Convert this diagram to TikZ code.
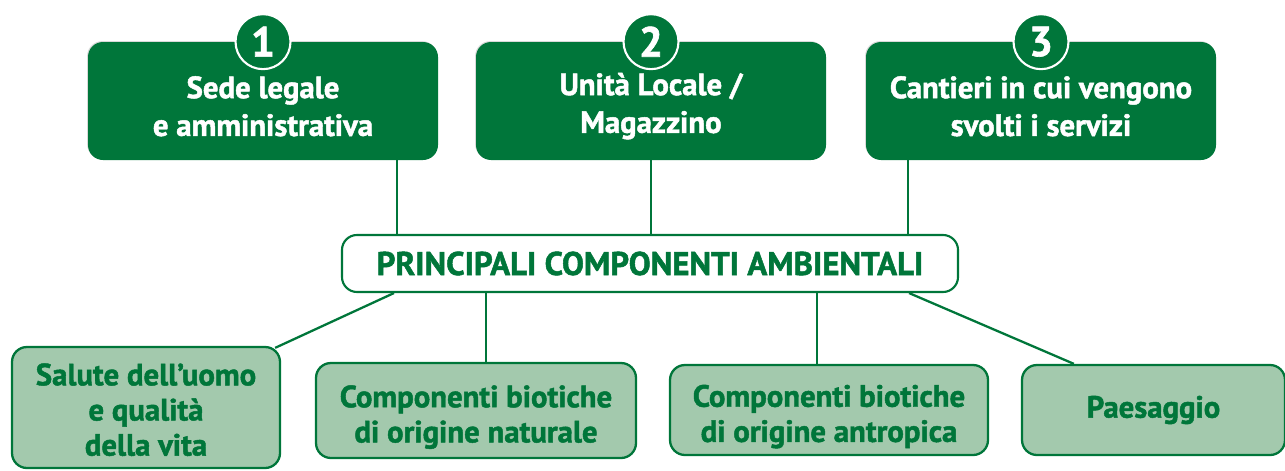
\documentclass[tikz,border=0pt]{standalone}
\usepackage{fontspec}
\setmainfont[BoldFeatures={FakeBold=1.5}]{PT Sans}
\usepackage{tikz}
\usetikzlibrary{shapes,positioning,calc}
\usetikzlibrary{shadows,backgrounds}
\definecolor{verdescuro}{RGB}{0,118,58}
\definecolor{verdechiaro}{RGB}{163,201,173}
\tikzstyle{sede} = [rectangle, rounded corners=0.3cm, fill=verdescuro, text=white, font=\bfseries\fontsize{17.5}{21.5}\selectfont, align=center, minimum width=7cm, minimum height=2.36cm, drop shadow={shadow xshift=-0.5pt, shadow yshift=0.5pt, opacity=0.3}]
\tikzstyle{numero} = [circle, fill=verdescuro, draw=white, line width=1.2pt, text=white, font=\bfseries\fontsize{24}{26}\selectfont, minimum size=1.1cm, inner sep=0pt]
\tikzstyle{titolo} = [rectangle, rounded corners=0.3cm, fill=white, draw=verdescuro, line width=1.2pt, text=verdescuro, font=\bfseries\fontsize{18.7}{21}\selectfont, minimum width=12.32cm, minimum height=1.14cm, drop shadow={shadow xshift=-0.5pt, shadow yshift=0.5pt, opacity=0.3}]
\tikzstyle{componente} = [rectangle, rounded corners=0.3cm, fill=verdechiaro, draw=verdescuro, line width=1.3pt, text=verdescuro, font=\bfseries\fontsize{17.5}{20}\selectfont, align=center, minimum height=1.8cm, drop shadow={shadow xshift=-0.5pt, shadow yshift=0.5pt, opacity=0.3}]
\tikzstyle{linea} = [verdescuro, line width=1.3pt]

\begin{document}
\begin{tikzpicture}
	\useasboundingbox (0,0) rectangle (25.7,9.4);
	% sedi
	\node[sede] (s1) at (5.26,7.38) {\\[-3pt]Sede legale\\e amministrativa};
	\node[sede] (s2) at (13.02,7.38) {\\[-3pt]Unità Locale /\\Magazzino};
	\node[sede] (s3) at (20.82,7.38) {\\[-3pt]Cantieri in cui vengono\\svolti i servizi};
	\node[numero] (n1) at (s1.north) {1};
	\node[numero] (n2) at (s2.north) {2};
	\node[numero] (n3) at (s3.north) {3};
	% titolo
	\node[titolo] (pca) at (13,4.13) {PRINCIPALI COMPONENTI AMBIENTALI};
	% componenti
	\node[componente, minimum width=5.36cm, minimum height=2.42cm] (salute) at (2.92,1.25) {\\[-5pt]Salute dell’uomo\\e qualità\\della vita};
	\node[componente, minimum width=6.4cm, minimum height=1.9cm] (naturale) at (9.52,1.19) {\\Componenti biotiche\\di origine naturale};
	\node[componente, minimum width=6.36cm] (antropica) at (16.58,1.2) {\\Componenti biotiche\\di origine antropica};
	\node[componente, minimum width=5.26cm] (paesaggio) at (23.07,1.2) {Paesaggio};
	% collegamenti
	\begin{scope}[on background layer]
		\draw[linea] ([xshift=2.68cm]s1.south) -- ([xshift=2.68cm]s1.south |- pca.north);
		\draw[linea] (s2.south) -- (s2.south |- pca.north);
		\draw[linea] ([xshift=-2.66cm]s3.south) -- ([xshift=-2.66cm]s3.south |- pca.north);
		\draw[linea] ([xshift=1.06cm]pca.south west) -- ([xshift=-0.12cm,yshift=-0.04cm]salute.north east);
		\draw[linea] ([xshift=0.2cm]naturale.north) -- ([xshift=0.2cm]naturale.north |- pca.south);
		\draw[linea] ([xshift=-0.24cm]antropica.north) -- ([xshift=-0.24cm]antropica.north |- pca.south);
		\draw[linea] ([xshift=-1cm]pca.south east) -- ([xshift=1.06cm]paesaggio.north west);
	\end{scope}
\end{tikzpicture}
\end{document}
